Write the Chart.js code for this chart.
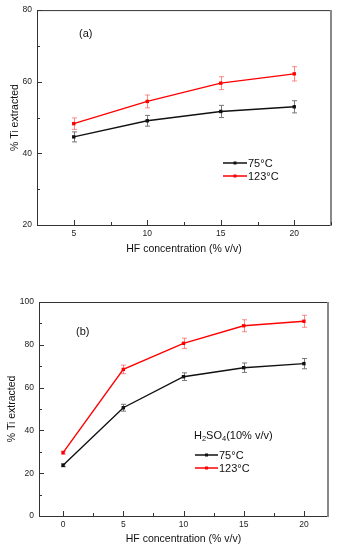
<!DOCTYPE html>
<html>
<head>
<meta charset="UTF-8">
<title>Ti extracted vs HF concentration</title>
<script src="https://cdn.jsdelivr.net/npm/chart.js"></script>
<style>
body { margin: 0; background: #fff; }
.box { position: absolute; left: 0; width: 338px; }
</style>
</head>
<body>
<div class="box" style="top:0;height:260px"><canvas id="chartA"></canvas></div>
<div class="box" style="top:270px;height:280px"><canvas id="chartB"></canvas></div>

<script>
// ---- data, panel (a) ----
var hfA = [5, 10, 15, 20];
var ti75A = [44.6, 49.1, 51.7, 53.0];
var err75A = [1.4, 1.5, 1.7, 1.7];
var ti123A = [48.3, 54.5, 59.6, 62.2];
var err123A = [1.6, 1.8, 1.8, 2.0];
var xTicksA = [2.5, 5, 7.5, 10, 12.5, 15, 17.5, 20, 22.5];
var xLabelsA = [5, 10, 15, 20];
var yTicksA = [20, 30, 40, 50, 60, 70, 80];
var yLabelsA = [20, 40, 60, 80];

// ---- data, panel (b) ----
var hfB = [0, 5, 10, 15, 20];
var ti75B = [23.7, 50.6, 65.1, 69.3, 71.2];
var err75B = [0.7, 1.6, 1.8, 2.2, 2.4];
var ti123B = [29.6, 68.5, 80.7, 88.9, 91.0];
var err123B = [0.7, 2.0, 2.4, 2.8, 2.8];
var xTicksB = [0, 2.5, 5, 7.5, 10, 12.5, 15, 17.5, 20];
var xLabelsB = [0, 5, 10, 15, 20];
var yTicksB = [0, 10, 20, 30, 40, 50, 60, 70, 80, 90, 100];
var yLabelsB = [0, 20, 40, 60, 80, 100];

var seriesNames = ['75°C', '123°C'];
var FONT = 'Arial, "Liberation Sans", sans-serif';

function pts(xs, ys) {
    return xs.map(function (x, i) { return {x: x, y: ys[i]}; });
}

// error bars, drawn with the chart's own scales
var errorBars = {
    id: 'errorBars',
    beforeDatasetsDraw: function (chart) {
        var ctx = chart.ctx, ys = chart.scales.y, xs = chart.scales.x;
        chart.data.datasets.forEach(function (ds) {
            ctx.save();
            ctx.strokeStyle = ds.errColor;
            ctx.lineWidth = 1;
            ds.data.forEach(function (p, i) {
                var e = ds.errors[i];
                var px = Math.round(xs.getPixelForValue(p.x)) + 0.5;
                var top = ys.getPixelForValue(p.y + e);
                var bot = ys.getPixelForValue(p.y - e);
                ctx.beginPath();
                ctx.moveTo(px, top); ctx.lineTo(px, bot);
                ctx.moveTo(px - 2.5, top); ctx.lineTo(px + 2.5, top);
                ctx.moveTo(px - 2.5, bot); ctx.lineTo(px + 2.5, bot);
                ctx.stroke();
            });
            ctx.restore();
        });
    }
};

// frame box and inward tick marks
var frame = {
    id: 'frame',
    afterDraw: function (chart) {
        var ctx = chart.ctx, a = chart.chartArea;
        var xs = chart.scales.x, ys = chart.scales.y;
        var xl = chart.options.xLabels, yl = chart.options.yLabels;
        ctx.save();
        ctx.lineWidth = 1;
        ctx.strokeStyle = '#333';
        ctx.beginPath();
        ctx.moveTo(a.left + 0.5, a.bottom + 0.5);
        ctx.lineTo(a.left + 0.5, a.top + 0.5);
        ctx.lineTo(a.right, a.top + 0.5);
        ctx.moveTo(a.left, a.bottom + 0.5);
        ctx.lineTo(a.right, a.bottom + 0.5);
        ctx.stroke();
        ctx.strokeStyle = '#888';
        ctx.lineWidth = 2;
        ctx.beginPath();
        ctx.moveTo(a.right, a.top);
        ctx.lineTo(a.right, a.bottom + 1);
        ctx.stroke();
        ctx.lineWidth = 1;
        ctx.strokeStyle = '#333';
        ctx.beginPath();
        xs.ticks.forEach(function (t) {
            var px = Math.round(xs.getPixelForValue(t.value)) + 0.5;
            var len = xl.indexOf(t.value) >= 0 ? 5 : 3;
            ctx.moveTo(px, a.bottom); ctx.lineTo(px, a.bottom - len);
        });
        ys.ticks.forEach(function (t) {
            var py = Math.round(ys.getPixelForValue(t.value)) + 0.5;
            var len = yl.indexOf(t.value) >= 0 ? 5 : 3;
            ctx.moveTo(a.left, py); ctx.lineTo(a.left + len, py);
        });
        ctx.stroke();
        ctx.restore();
    }
};

// annotations: panel letter + legend drawn inside the plot
var notes = {
    id: 'notes',
    afterDraw: function (chart) {
        var ctx = chart.ctx, n = chart.options.notes;
        ctx.save();
        ctx.fillStyle = '#111';
        ctx.textBaseline = 'middle';
        ctx.font = '11px ' + FONT;
        ctx.fillText(n.panel, n.panelX, n.panelY);
        if (n.heading) {
            var x = n.headX, y = n.headY;
            n.heading.forEach(function (part) {
                ctx.font = (part.sub ? '7.5px ' : '11px ') + FONT;
                ctx.fillText(part.t, x, y + (part.sub ? 3 : 0));
                x += ctx.measureText(part.t).width;
            });
        }
        chart.data.datasets.forEach(function (ds, i) {
            var y = n.legY + i * n.legGap;
            ctx.strokeStyle = ds.borderColor;
            ctx.lineWidth = 1.5;
            ctx.beginPath();
            ctx.moveTo(n.legX, y); ctx.lineTo(n.legX + n.legLen, y);
            ctx.stroke();
            ctx.fillStyle = ds.borderColor;
            ctx.fillRect(n.legX + n.legLen / 2 - 1.5, y - 1.5, 3, 3);
            ctx.fillStyle = '#111';
            ctx.font = '11px ' + FONT;
            ctx.fillText(ds.label, n.legX + n.legLen + 1, y + 0.5);
        });
        ctx.restore();
    }
};

function makeChart(id, p) {
    return new Chart(document.getElementById(id), {
        type: 'line',
        data: {
            datasets: [{
                label: seriesNames[0],
                data: pts(p.xs, p.y75),
                errors: p.e75,
                errColor: '#777',
                borderColor: '#111',
                backgroundColor: '#111',
                borderWidth: 1.4,
                pointStyle: 'rect',
                pointRadius: 2.4,
                pointBorderWidth: 0
            }, {
                label: seriesNames[1],
                data: pts(p.xs, p.y123),
                errors: p.e123,
                errColor: 'rgba(255,60,60,0.6)',
                borderColor: '#ff0000',
                backgroundColor: '#ff0000',
                borderWidth: 1.4,
                pointStyle: 'rect',
                pointRadius: 2.4,
                pointBorderWidth: 0
            }]
        },
        options: {
            responsive: true,
            maintainAspectRatio: false,
            animation: false,
            layout: {padding: p.pad},
            xLabels: p.xLabels,
            yLabels: p.yLabels,
            notes: p.notes,
            plugins: {legend: {display: false}, tooltip: {enabled: false}},
            scales: {
                x: {
                    type: 'linear',
                    min: p.xMin, max: p.xMax,
                    afterBuildTicks: function (s) { s.ticks = p.xTicks.map(function (v) { return {value: v}; }); },
                    afterFit: function (s) { s.height = p.xH; },
                    grid: {display: false, drawTicks: false},
                    border: {display: false},
                    ticks: {
                        autoSkip: false, maxRotation: 0, padding: 4, color: '#222',
                        font: {family: FONT, size: 8.5},
                        callback: function (v) { return p.xLabels.indexOf(v) >= 0 ? v : ''; }
                    },
                    title: {display: true, text: 'HF concentration (% v/v)', color: '#111',
                        font: {family: FONT, size: 10.5}, padding: {top: 0, bottom: 5}}
                },
                y: {
                    type: 'linear',
                    min: p.yMin, max: p.yMax,
                    afterBuildTicks: function (s) { s.ticks = p.yTicks.map(function (v) { return {value: v}; }); },
                    afterFit: function (s) { s.width = p.yW; },
                    grid: {display: false, drawTicks: false},
                    border: {display: false},
                    ticks: {
                        autoSkip: false, padding: 5, color: '#222',
                        font: {family: FONT, size: 8.5},
                        callback: function (v) { return p.yLabels.indexOf(v) >= 0 ? v : ''; }
                    },
                    title: {display: true, text: '% Ti extracted', color: '#111',
                        font: {family: FONT, size: 10.5}, padding: {top: p.yTitlePad, bottom: 0}}
                }
            }
        },
        plugins: [errorBars, frame, notes]
    });
}

makeChart('chartA', {
    xs: hfA, y75: ti75A, e75: err75A, y123: ti123A, e123: err123A,
    xMin: 2.5, xMax: 22.5, yMin: 20, yMax: 80,
    xTicks: xTicksA, xLabels: xLabelsA, yTicks: yTicksA, yLabels: yLabelsA,
    pad: {left: 0, right: 7, top: 7, bottom: 0},
    yW: 37, xH: 35, yTitlePad: 9,
    notes: {panel: '(a)', panelX: 79, panelY: 34,
        legX: 223, legY: 163, legGap: 13, legLen: 24}
});

makeChart('chartB', {
    xs: hfB, y75: ti75B, e75: err75B, y123: ti123B, e123: err123B,
    xMin: -2, xMax: 22, yMin: 0, yMax: 100,
    xTicks: xTicksB, xLabels: xLabelsB, yTicks: yTicksB, yLabels: yLabelsB,
    pad: {left: 0, right: 10, top: 32, bottom: 0},
    yW: 39, xH: 34, yTitlePad: 5.5,
    notes: {panel: '(b)', panelX: 76, panelY: 62,
        heading: [{t: 'H'}, {t: '2', sub: true}, {t: 'SO'}, {t: '4', sub: true}, {t: '(10% v/v)'}],
        headX: 194, headY: 166,
        legX: 195, legY: 185, legGap: 13, legLen: 23}
});
</script>
</body>
</html>
